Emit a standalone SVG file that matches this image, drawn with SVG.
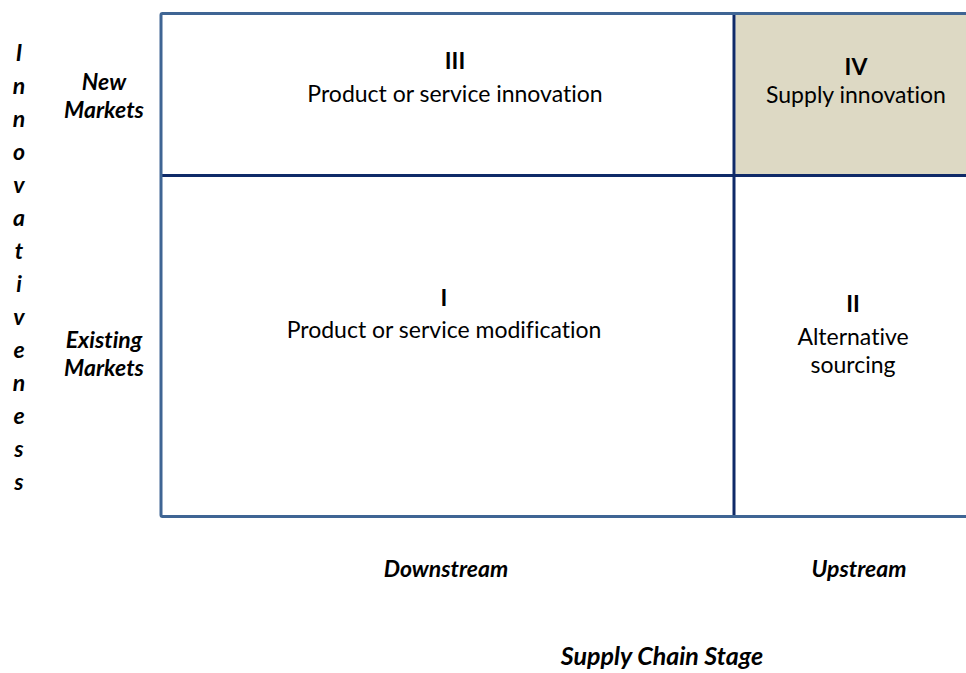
<svg xmlns="http://www.w3.org/2000/svg" width="966" height="673" viewBox="0 0 966 673">
  <style>
    text { font-variant-ligatures: none; font-feature-settings: "liga" 0, "clig" 0; }
    .cell-text { font-family: "Lato", "Open Sans", "Liberation Sans", sans-serif; font-size: 23px; fill: #000; text-anchor: middle; }
    .num { font-weight: bold; }
    .axis { font-family: "Lato", "Open Sans", "Liberation Sans", sans-serif; font-size: 23px; font-weight: bold; font-style: italic; fill: #000; text-anchor: middle; }
    .title { font-size: 25px; }
    .frame { fill: none; stroke: #3f6594; stroke-width: 3; }
    .divider { stroke: #0f2a68; stroke-width: 3; fill: none; }
  </style>

  <rect width="966" height="673" fill="#ffffff"/>

  <!-- shaded quadrant IV background -->
  <rect x="735.5" y="15" width="231" height="159" fill="#ddd9c4"/>

  <!-- matrix grid -->
  <g id="grid-lines">
    <line class="divider" x1="161" y1="175.5" x2="966" y2="175.5"/>
    <line class="divider" x1="734" y1="13" x2="734" y2="516"/>
    <rect class="frame" x="161" y="13.5" width="900" height="503" rx="1.5"/>
  </g>

  <g id="quadrant-iii">
    <text class="cell-text num" x="455" y="69">III</text>
    <text class="cell-text" x="455" y="102">Product or service innovation</text>
  </g>

  <g id="quadrant-iv">
    <text class="cell-text num" x="856" y="75">IV</text>
    <text class="cell-text" x="856" y="103">Supply innovation</text>
  </g>

  <g id="quadrant-i">
    <text class="cell-text num" x="444" y="306">I</text>
    <text class="cell-text" x="444" y="338">Product or service modification</text>
  </g>

  <g id="quadrant-ii">
    <text class="cell-text num" x="853" y="312">II</text>
    <text class="cell-text" x="853" y="345">Alternative</text>
    <text class="cell-text" x="853" y="373">sourcing</text>
  </g>

  <!-- vertical axis: row labels -->
  <g id="row-new-markets">
    <text class="axis" x="104" y="90">New</text>
    <text class="axis" x="104" y="118">Markets</text>
  </g>
  <g id="row-existing-markets">
    <text class="axis" x="104" y="348">Existing</text>
    <text class="axis" x="104" y="376">Markets</text>
  </g>

  <!-- vertical axis title, one letter per line -->
  <g id="axis-innovativeness">
    <text class="axis" x="19" y="61">I</text>
    <text class="axis" x="19" y="94">n</text>
    <text class="axis" x="19" y="127">n</text>
    <text class="axis" x="19" y="160">o</text>
    <text class="axis" x="19" y="193">v</text>
    <text class="axis" x="19" y="226">a</text>
    <text class="axis" x="19" y="259">t</text>
    <text class="axis" x="19" y="292">i</text>
    <text class="axis" x="19" y="325">v</text>
    <text class="axis" x="19" y="358">e</text>
    <text class="axis" x="19" y="391">n</text>
    <text class="axis" x="19" y="424">e</text>
    <text class="axis" x="19" y="457">s</text>
    <text class="axis" x="19" y="490">s</text>
  </g>

  <!-- horizontal axis: column labels and title -->
  <g id="col-downstream">
    <text class="axis" x="446" y="577">Downstream</text>
  </g>
  <g id="col-upstream">
    <text class="axis" x="859" y="577">Upstream</text>
  </g>
  <g id="axis-supply-chain-stage">
    <text class="axis title" x="662" y="665">Supply Chain Stage</text>
  </g>
</svg>
